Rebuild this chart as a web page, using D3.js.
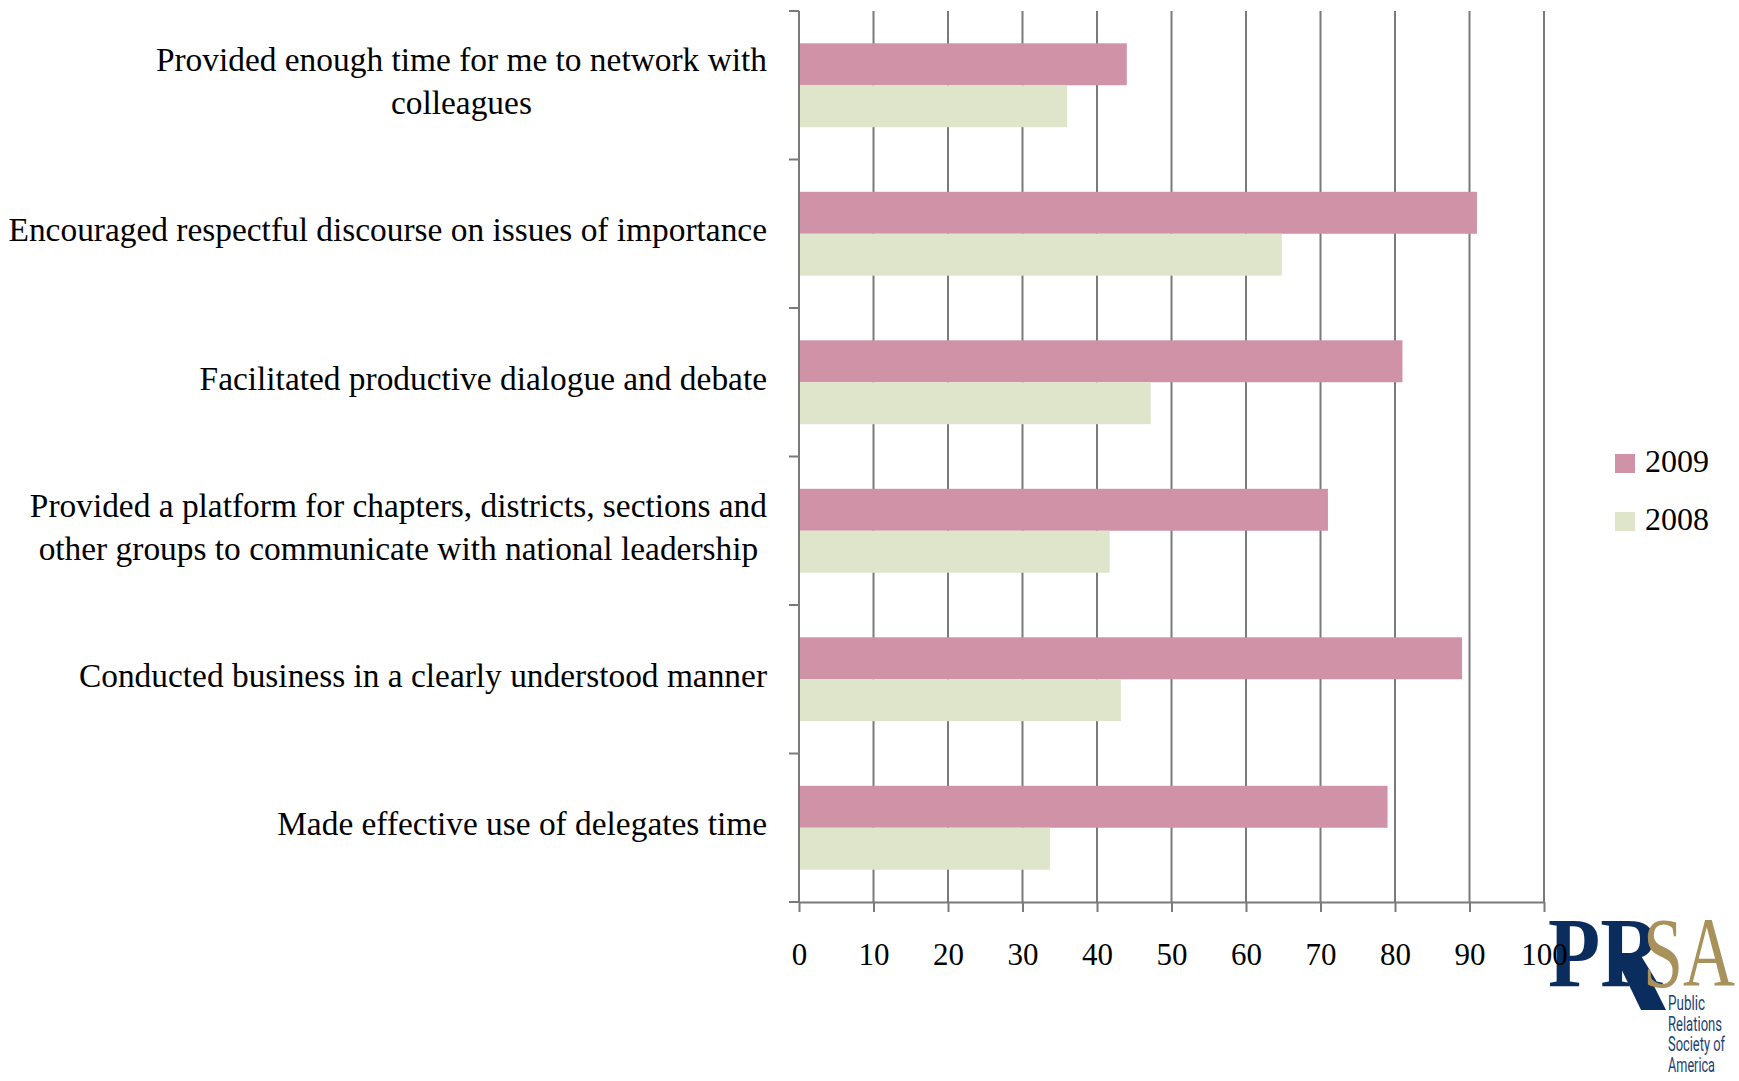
<!DOCTYPE html>
<html>
<head>
<meta charset="utf-8">
<script src="https://cdn.jsdelivr.net/npm/d3@7/dist/d3.min.js"></script>
<style>
  html, body { margin: 0; padding: 0; background: #fff; }
  svg { display: block; }
</style>
</head>
<body>
<svg id="chart" width="1739" height="1081"></svg>
<script>
// ---- data ----
const categories = [
  ["Provided enough time for me to network with", "colleagues"],
  ["Encouraged respectful discourse on issues of importance"],
  ["Facilitated productive dialogue and debate"],
  ["Provided a platform for chapters, districts, sections and", "other groups to communicate with national leadership"],
  ["Conducted business in a clearly understood manner"],
  ["Made effective use of delegates time"]
];
const seriesNames = ["2009", "2008"];
const values2009 = [44, 91, 81, 71, 89, 79];
const values2008 = [36, 64.8, 47.2, 41.7, 43.2, 33.7];
const xTicks = [0, 10, 20, 30, 40, 50, 60, 70, 80, 90, 100];
const colors = { "2009": "#D092A7", "2008": "#DFE5CA" };

(function () {
// ---- layout ----
const svg = d3.select("#chart");
const pLeft = 799, pRight = 1544, pTop = 11, pBottom = 902;
const serif = "'Liberation Serif', 'DejaVu Serif', serif";
const gray = "#7a7a7a";

const catKeys = categories.map((c, i) => i);
const x = d3.scaleLinear().domain([0, 100]).range([pLeft, pRight]);
const y = d3.scaleBand().domain(catKeys).range([pTop, pBottom]);
const yInner = d3.scaleBand().domain(seriesNames).range([0, y.bandwidth()]).paddingOuter(0.77);

const rows = catKeys.map(i => ({ i, "2009": values2009[i], "2008": values2008[i] }));

// ---- logo (drawn under tick labels) ----
const logo = svg.append("g");
logo.append("path")
  .attr("d", "M1616,958 L1640,958 L1666,1010 L1641,1010 Z")
  .attr("fill", "#0B2D5E");
logo.append("text").attr("x", 1548).attr("y", 986)
  .attr("textLength", 114).attr("lengthAdjust", "spacingAndGlyphs")
  .style("font-family", serif).style("font-weight", "bold").style("font-size", "100px").style("fill", "#0B2D5E")
  .text("PR");
logo.append("text").attr("x", 1643).attr("y", 986)
  .attr("textLength", 92).attr("lengthAdjust", "spacingAndGlyphs")
  .style("font-family", serif).style("font-size", "100px").style("fill", "#A8915A")
  .text("SA");
const logoLines = [["Public", 37], ["Relations", 54], ["Society of", 57], ["America", 47]];
logoLines.forEach((d, k) => {
  logo.append("text").attr("x", 1668).attr("y", 1010 + k * 20.6)
    .attr("textLength", d[1]).attr("lengthAdjust", "spacingAndGlyphs")
    .style("font-family", "Roboto, 'Liberation Sans', sans-serif").style("font-size", "20px")
    .style("fill", "#1D3F73")
    .text(d[0]);
});

// ---- gridlines ----
svg.append("g").selectAll("line").data(xTicks.filter(t => t > 0)).join("line")
  .attr("x1", d => x(d)).attr("x2", d => x(d))
  .attr("y1", pTop).attr("y2", pBottom)
  .attr("stroke", gray).attr("stroke-width", 2);

// ---- bars ----
const g = svg.append("g");
rows.forEach(r => {
  seriesNames.forEach(s => {
    g.append("rect")
      .attr("x", x(0))
      .attr("y", y(r.i) + yInner(s))
      .attr("width", x(r[s]) - x(0))
      .attr("height", yInner.bandwidth())
      .attr("fill", colors[s]);
  });
});

// ---- left axis (category boundaries) ----
const yAxis = svg.append("g");
yAxis.append("line").attr("x1", pLeft).attr("x2", pLeft).attr("y1", pTop).attr("y2", pBottom)
  .attr("stroke", gray).attr("stroke-width", 2);
const bounds = catKeys.map(i => y(i)).concat([pBottom]);
yAxis.selectAll("line.tick").data(bounds).join("line").attr("class", "tick")
  .attr("x1", pLeft - 10).attr("x2", pLeft).attr("y1", d => d).attr("y2", d => d)
  .attr("stroke", gray).attr("stroke-width", 2);

// ---- bottom axis ----
const xAxis = svg.append("g").attr("transform", `translate(0,${pBottom})`)
  .call(d3.axisBottom(x).tickValues(xTicks).tickSize(10).tickPadding(31).tickSizeOuter(0));
xAxis.select(".domain").attr("stroke", gray).attr("stroke-width", 2);
xAxis.selectAll(".tick line").attr("stroke", gray).attr("stroke-width", 2);
xAxis.selectAll(".tick text").style("font-family", serif).style("font-size", "31px").attr("fill", "#000");

// ---- category labels ----
const labelRight = 767;
const lineH = 43;
categories.forEach((lines, i) => {
  const cy = y(i) + y.bandwidth() / 2 - 4;
  const grp = svg.append("g");
  const texts = lines.map((t, k) => grp.append("text")
    .attr("y", cy + (k - (lines.length - 1) / 2) * lineH)
    .attr("dy", "0.35em")
    .style("font-family", serif).style("font-size", "33.4px").style("fill", "#000")
    .text(t));
  const widths = texts.map(t => t.node().getComputedTextLength());
  const maxW = d3.max(widths);
  const center = labelRight - maxW / 2;
  texts.forEach(t => t.attr("x", center).attr("text-anchor", "middle"));
});

// ---- legend ----
const legend = svg.append("g");
seriesNames.forEach((s, k) => {
  const ly = 454 + k * 58;
  legend.append("rect").attr("x", 1615).attr("y", ly).attr("width", 20).attr("height", 19).attr("fill", colors[s]);
  legend.append("text").attr("x", 1645).attr("y", ly + 18)
    .style("font-family", serif).style("font-size", "32px").style("fill", "#000").text(s);
});
})();
</script>
</body>
</html>
